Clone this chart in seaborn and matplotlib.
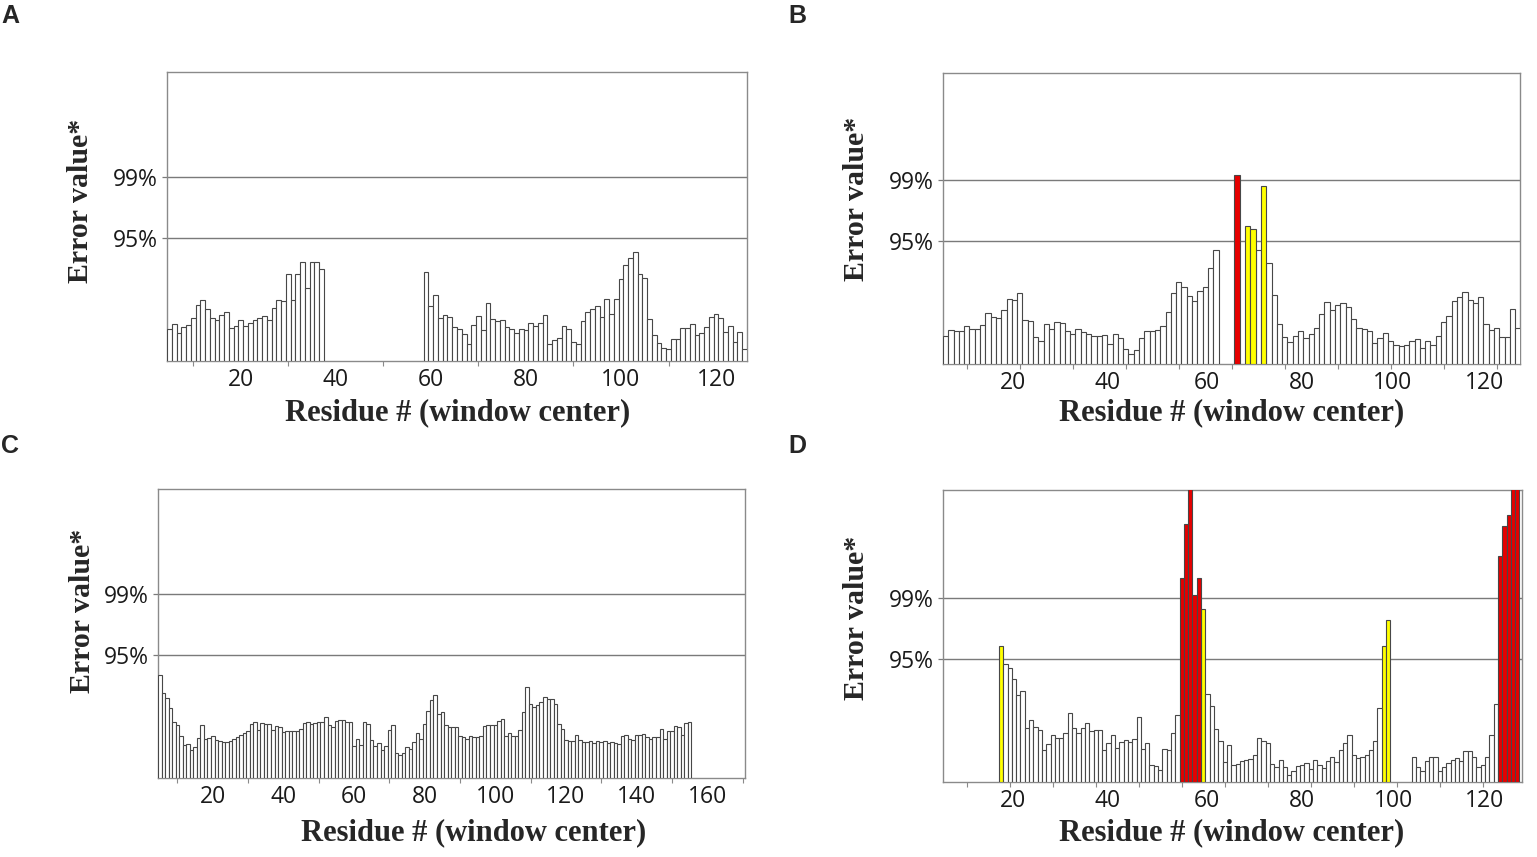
import numpy as np
import pandas as pd
import matplotlib
matplotlib.use("Agg")
import matplotlib.pyplot as plt
import seaborn as sns

# ---------------- data (ERRAT-style error values per window centre) ----------------
THRESH_95 = 12.3
THRESH_99 = 18.4

# Panel A : two stretches of residues
A_seg1_start = 5
A_seg1 = [3.2, 3.7, 2.8, 3.4, 3.6, 4.3, 5.6, 6.1, 5.2, 4.3, 4.1, 4.6, 4.9, 3.3, 3.5, 4.1,
          3.5, 3.8, 4.1, 4.3, 4.5, 4.1, 5.3, 6.1, 6.0, 8.7, 6.1, 8.7, 9.9, 7.3, 9.9, 9.9, 9.2]
A_seg2_start = 59
A_seg2 = [8.9, 5.5, 6.6, 4.3, 4.6, 4.4, 3.4, 3.2, 2.7, 1.7, 3.6, 4.5, 3.1, 5.8, 4.2, 4.0,
          4.1, 3.4, 3.2, 2.8, 3.2, 3.1, 3.8, 3.5, 3.8, 4.6, 1.7, 2.1, 2.3, 3.5, 3.2, 1.9,
          1.7, 4.0, 4.9, 5.2, 5.5, 4.4, 6.2, 4.7, 6.2, 8.2, 9.6, 10.3, 10.9, 8.7, 8.3, 4.2,
          2.6, 1.8, 1.3, 1.2, 2.2, 2.2, 3.3, 3.3, 3.7, 2.6, 2.8, 3.4, 4.4, 4.7, 4.3, 2.9,
          3.5, 1.9, 2.9, 1.2]

# Panel B
B_seg1_start = 6
B_seg1 = [2.8, 3.4, 3.3, 3.3, 3.8, 3.5, 3.5, 3.9, 5.1, 4.7, 4.6, 5.4, 6.5, 6.4, 7.1, 4.4,
          4.3, 2.7, 2.3, 4.0, 3.5, 4.2, 4.1, 3.3, 3.0, 3.5, 3.2, 3.0, 2.8, 2.8, 2.9, 2.0,
          3.0, 2.6, 1.5, 1.0, 1.4, 2.6, 3.3, 3.3, 3.4, 3.8, 5.2, 7.1, 8.2, 7.7, 6.8, 6.3,
          7.3, 7.7, 9.6, 11.4]
B_seg2_start = 61
B_seg2 = [18.9]
B_seg3_start = 63
B_seg3 = [13.8, 13.5, 11.4, 17.8,
          10.1, 6.9, 4.0, 2.7, 2.2, 2.8, 3.3, 2.6, 3.0, 3.6, 5.0, 6.2, 5.4, 5.9, 6.1, 5.7,
          4.5, 3.6, 3.5, 3.3, 2.1, 2.6, 3.1, 2.3, 1.9, 1.8, 1.9, 2.3, 2.5, 1.6, 2.3, 1.9,
          2.8, 4.2, 4.8, 6.3, 6.7, 7.2, 6.4, 6.1, 6.7, 4.0, 3.4, 3.6, 2.7, 2.7, 5.5, 3.6]

# Panel C
C_seg1_start = 5
C_seg1 = [10.3, 8.5, 8.0, 7.0, 5.6, 5.3, 4.2, 3.3, 3.4, 2.8, 3.1, 4.0, 5.3, 3.9, 4.0, 4.2,
          3.8, 3.7, 3.6, 3.6, 3.7, 3.9, 4.1, 4.3, 4.5, 4.7, 5.4, 5.6, 4.8, 5.5, 5.4, 5.4,
          4.8, 5.2, 5.1, 4.6, 4.7, 4.7, 4.7, 4.7, 4.9, 5.5, 5.6, 5.4, 5.5, 5.6, 5.6, 6.1,
          5.3, 5.1, 5.7, 5.8, 5.8, 5.6, 5.6, 3.2, 3.9, 3.3, 5.6, 5.4, 3.8, 3.2, 3.5, 2.8,
          3.2, 4.8, 5.3, 2.5, 2.3, 2.5, 3.1, 2.9, 3.6, 4.5, 3.9, 5.4, 6.7, 7.8, 8.3,
          6.4, 6.6, 5.3, 5.1, 5.1, 5.1, 4.2, 4.1, 3.9, 4.2, 4.1, 4.1, 4.2, 5.2, 5.3, 5.3,
          5.3, 5.7, 5.9, 4.2, 4.5, 4.2, 4.2, 4.8, 6.6, 9.1, 7.4, 7.1, 7.3, 7.6, 8.1, 7.9,
          7.9, 7.4, 5.4, 4.9, 3.8, 3.7, 3.7, 4.3, 3.8, 3.6, 3.6, 3.7, 3.5, 3.7, 3.6, 3.7,
          3.5, 3.6, 3.5, 3.4, 4.2, 4.3, 3.9, 3.8, 4.3, 4.3, 4.4, 4.1, 3.9, 4.1, 4.1, 4.9,
          3.9, 4.7, 4.7, 5.2, 5.1, 4.3, 5.5, 5.6]

# Panel D
D_seg1_start = 18
D_seg1 = [13.6, 11.8, 11.4, 10.3, 8.7, 9.1, 5.4, 6.2, 5.5, 5.2,
          3.2, 3.8, 4.7, 4.4, 4.4, 4.9, 6.9, 5.4, 4.9, 5.4,
          5.9, 5.1, 5.2, 5.2, 3.2, 3.9, 4.7, 3.4, 4.0, 4.2,
          4.0, 4.3, 6.5, 3.3, 3.9, 1.7, 1.6, 1.2, 3.3, 3.2,
          4.9, 6.7, 20.4, 25.8, 31.0, 18.7, 20.4, 17.3, 8.8, 7.6,
          5.3, 4.1, 2.0, 3.7, 1.7,
          1.8, 2.1, 2.2, 2.3, 2.7, 4.4, 4.1, 3.9, 1.8, 1.5,
          2.2, 1.5, 0.7, 1.1, 1.6, 1.7, 1.9, 1.3, 2.2, 1.7,
          1.4, 2.1, 2.5, 2.0, 3.2, 3.9, 4.7, 2.7, 2.4, 2.5,
          2.7, 3.2, 4.1, 7.4, 13.6, 16.2]
D_seg2_start = 114
D_seg2 = [2.5, 1.5, 1.1, 2.1, 2.5, 2.5, 1.1, 1.5, 1.9, 2.2, 2.4, 2.1, 3.1, 3.1, 2.5, 1.5,
          1.7, 2.5, 4.7, 7.8, 22.6, 25.6, 26.7, 31.0, 31.0]

# tick labels
A_labels = [20, 40, 60, 80, 100, 120]
C_labels = [20, 40, 60, 80, 100, 120, 140, 160]
BD_labels = [20, 40, 60, 80, 100, 120]
B_label_pos = [18.7, 36.5, 55.3, 73.2, 90.4, 107.7]
D_label_pos = [20.8, 42.8, 65.9, 88.0, 109.2, 130.4]

# ---------------- helpers ----------------
def make_frame(segments):
    rows = []
    for start, vals in segments:
        for k, v in enumerate(vals):
            if v > THRESH_99:
                lvl = "high"
            elif v > THRESH_95:
                lvl = "warn"
            else:
                lvl = "ok"
            rows.append((start + k, v, lvl))
    return pd.DataFrame(rows, columns=["residue", "error", "level"])


palette = {"ok": "#ffffff", "warn": "#ffff00", "high": "#e60000"}

W, H = 1537, 857
fig = plt.figure(figsize=(W / 100, H / 100), dpi=100)
sns.set_style("white")
plt.rcParams["font.family"] = ["Open Sans", "DejaVu Sans"]


def rect(left, top, right, bottom):
    return [left / W, 1 - bottom / H, (right - left) / W, (bottom - top) / H]


panels = [
    dict(df=make_frame([(A_seg1_start, A_seg1), (A_seg2_start, A_seg2)]),
         rect=rect(167, 72, 747, 361), xlim=(4.5, 126.5), ytop=28.9,
         minor=list(range(10, 121, 10)), lpos=A_labels, labels=A_labels,
         letter="A", lxy=(10, 16), xl=(458, 413), yl=(81, 201)),
    dict(df=make_frame([(B_seg1_start, B_seg1), (B_seg2_start, B_seg2), (B_seg3_start, B_seg3)]),
         rect=rect(943, 73, 1520, 364), xlim=(5.5, 114.4), ytop=29.1,
         minor=list(range(10, 111, 10)), lpos=B_label_pos, labels=BD_labels,
         letter="B", lxy=(797, 16), xl=(1232, 413), yl=(857, 199)),
    dict(df=make_frame([(C_seg1_start, C_seg1)]),
         rect=rect(158, 489, 745, 778), xlim=(4.5, 170.7), ytop=28.9,
         minor=list(range(10, 171, 10)), lpos=C_labels, labels=C_labels,
         letter="C", lxy=(10, 446), xl=(474, 833), yl=(82, 611)),
    dict(df=make_frame([(D_seg1_start, D_seg1), (D_seg2_start, D_seg2)]),
         rect=rect(943, 490, 1522, 782), xlim=(4.5, 139.1), ytop=29.2,
         minor=list(range(10, 131, 10)), lpos=D_label_pos, labels=BD_labels,
         letter="D", lxy=(797, 446), xl=(1232, 833), yl=(857, 618)),
]

frame_col = "#8a8a8a"
for p in panels:
    ax = fig.add_axes(p["rect"])
    for y in (THRESH_95, THRESH_99):
        ax.axhline(y, color="#7a7a7a", lw=1.0, zorder=1)
    sns.barplot(data=p["df"], x="residue", y="error", hue="level", palette=palette,
                native_scale=True, width=1, dodge=False, saturation=1,
                errorbar=None, legend=False, edgecolor="#474747", linewidth=0.8,
                ax=ax, zorder=3)
    ax.set_xlim(*p["xlim"])
    ax.set_ylim(0, p["ytop"])
    ax.set_xlabel("")
    ax.set_ylabel("")
    ax.set_facecolor("white")
    for s in ax.spines.values():
        s.set_visible(True)
        s.set_color(frame_col)
        s.set_linewidth(1.0)
    ax.set_xticks(p["lpos"])
    ax.set_xticklabels([str(v) for v in p["labels"]])
    ax.set_xticks(p["minor"], minor=True)
    ax.tick_params(axis="x", which="major", length=0, pad=5, labelsize=16.5,
                   labelcolor="#1a1a1a")
    ax.tick_params(axis="x", which="minor", length=3.5, width=0.8, color=frame_col,
                   direction="out", bottom=True)
    ax.set_yticks([THRESH_95, THRESH_99])
    ax.set_yticklabels(["95%", "99%"])
    ax.tick_params(axis="y", which="major", length=3.8, width=0.9, color="#7a7a7a",
                   direction="out", left=True, pad=3, labelsize=16.5, labelcolor="#1a1a1a")

    fig.text(p["lxy"][0] / W, 1 - p["lxy"][1] / H, p["letter"], ha="center", va="center",
             fontsize=18, fontweight="bold", family="Liberation Sans")
    fig.text(p["xl"][0] / W, 1 - p["xl"][1] / H, "Residue # (window center)",
             ha="center", va="center", fontsize=22, fontweight="bold",
             family="Liberation Serif")
    fig.text(p["yl"][0] / W, 1 - p["yl"][1] / H, "Error value*", rotation=90,
             ha="center", va="center", fontsize=21.5, fontweight="bold",
             family="Liberation Serif")

fig.savefig("out.png", dpi=100, facecolor="white")
